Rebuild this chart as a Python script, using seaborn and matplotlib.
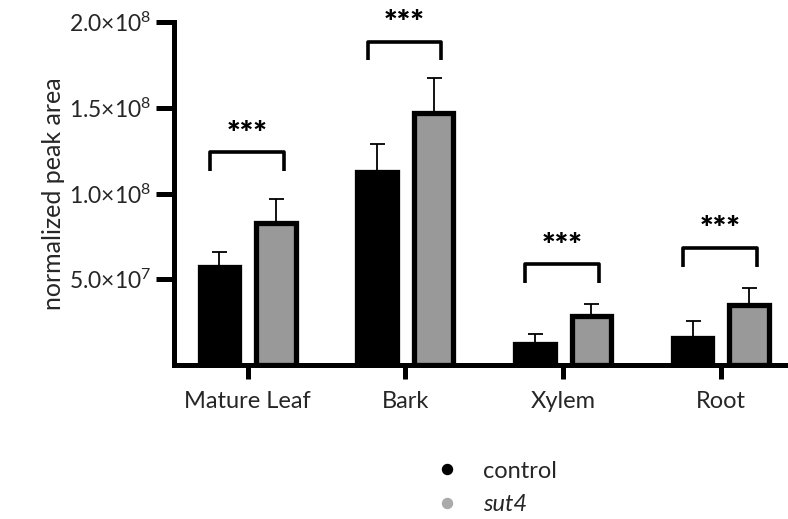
import matplotlib
matplotlib.use("Agg")
import matplotlib.pyplot as plt
from matplotlib.lines import Line2D
import seaborn as sns
import pandas as pd
import numpy as np

# ---- data ----
categories = ["Mature Leaf", "Bark", "Xylem", "Root"]
groups = ["control", "sut4"]
control_mean = [5.74e7, 11.27e7, 1.25e7, 1.58e7]
control_err = [0.86e7, 1.63e7, 0.58e7, 1.00e7]
sut4_mean = [8.27e7, 14.67e7, 2.86e7, 3.52e7]
sut4_err = [1.40e7, 2.06e7, 0.70e7, 0.97e7]
bracket_y = [1.24e8, 1.886e8, 0.587e8, 0.684e8]
sig_labels = ["***", "***", "***", "***"]
yticks = [5e7, 1e8, 1.5e8, 2e8]
ytick_labels = [r"$\mathregular{5.0{\times}10^{7}}$", r"$\mathregular{1.0{\times}10^{8}}$",
                r"$\mathregular{1.5{\times}10^{8}}$", r"$\mathregular{2.0{\times}10^{8}}$"]

sns.set_theme(style="white")
plt.rcParams["font.family"] = ["Lato", "DejaVu Sans"]
plt.rcParams["mathtext.fontset"] = "custom"
plt.rcParams["mathtext.rm"] = "Lato"
plt.rcParams["mathtext.it"] = "Lato:italic"
plt.rcParams["mathtext.bf"] = "Lato:bold"

df = pd.DataFrame({
    "category": categories * 2,
    "group": ["control"] * 4 + ["sut4"] * 4,
    "value": control_mean + sut4_mean,
})

fig = plt.figure(figsize=(7.88, 5.19), dpi=100)
ax = fig.add_axes([174 / 788, 1 - 365 / 519, 1 - 174 / 788, (365 - 22) / 519])

palette = {"control": "black", "sut4": "#999999"}
sns.barplot(data=df, x="category", y="value", hue="group", order=categories,
            hue_order=groups, palette=palette, width=0.716, gap=0.3,
            edgecolor="black", linewidth=3.8, saturation=1, legend=False,
            errorbar=None, ax=ax, zorder=2)

# error bars (upward only) at the bar centres computed by seaborn
bars = [p for p in ax.patches]
ctrl_bars = bars[:4]
sut_bars = bars[4:8]
for blist, means, errs in [(ctrl_bars, control_mean, control_err), (sut_bars, sut4_mean, sut4_err)]:
    xs = [b.get_x() + b.get_width() / 2 for b in blist]
    ax.errorbar(xs, means, yerr=[np.zeros(len(errs)), errs], fmt="none",
                ecolor="black", elinewidth=1.3, capsize=5.4, capthick=1.3, zorder=1)

# significance brackets
drop = 1.1e7
for cb, sb, by, lab in zip(ctrl_bars, sut_bars, bracket_y, sig_labels):
    x1 = cb.get_x() + cb.get_width() / 2 - 0.06
    x2 = sb.get_x() + sb.get_width() / 2 + 0.05
    ax.plot([x1, x1, x2, x2], [by - drop, by, by, by - drop], color="black", lw=2.6,
            solid_capstyle="butt", clip_on=False, zorder=3)
    ax.text((x1 + x2) / 2, by + 0.2e7, lab, ha="center", va="bottom", fontsize=23,
            fontweight="heavy", color="black", clip_on=False)

ax.set_xlim(-0.466, 3.425)
ax.set_ylim(0, 2e8)
ax.set_yticks(yticks)
ax.set_yticklabels(ytick_labels, fontsize=16.5)
ax.set_xticks(range(len(categories)))
ax.set_xticklabels(categories, fontsize=17)
ax.set_xlabel("")
ax.set_ylabel("normalized peak area", fontsize=18, labelpad=3)

for side in ["top", "right"]:
    ax.spines[side].set_visible(False)
for side in ["left", "bottom"]:
    ax.spines[side].set_linewidth(3.6)
    ax.spines[side].set_color("black")
ax.tick_params(axis="y", which="major", length=13, width=3.6, color="black", pad=3, left=True)
ax.tick_params(axis="x", which="major", length=10, width=3.6, color="black", pad=9, bottom=True)
ax.grid(False)

handles = [
    Line2D([0], [0], marker="o", linestyle="", color="black", markersize=7.2),
    Line2D([0], [0], marker="o", linestyle="", color="#aaaaaa", markersize=7.2),
]
leg = fig.legend(handles, ["control", "sut4"], loc="center", bbox_to_anchor=(496 / 788, 1 - 488 / 519),
                 frameon=False, fontsize=17, handletextpad=1.0, labelspacing=0.55,
                 handlelength=1.0, borderpad=0)
leg.get_texts()[1].set_fontstyle("italic")

fig.savefig("out.png", dpi=100)
